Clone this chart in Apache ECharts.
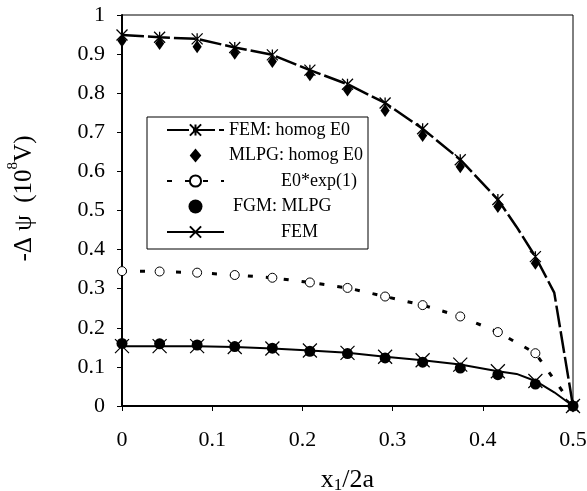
<!DOCTYPE html>
<html lang="en" style="height: 100%">
<head>
  <meta charset="utf-8">
</head>
<body style="height: 100%; margin: 0">
  <div id="container" style="width: 587px; height: 491px"></div>

  <script type="text/javascript" src="https://cdn.jsdelivr.net/npm/echarts@6/dist/echarts.min.js"></script>

  <script type="text/javascript">
    // node positions along the crack, x1/2a
    var xNodes = [0, 0.0417, 0.0833, 0.125, 0.1667, 0.2083, 0.25, 0.2917, 0.3333, 0.375, 0.4167, 0.4583, 0.5];

    var femHomog  = [0.949, 0.943, 0.939, 0.917, 0.898, 0.859, 0.823, 0.775, 0.709, 0.630, 0.528, 0.382, 0];
    var mlpgHomog = [0.934, 0.927, 0.919, 0.902, 0.881, 0.847, 0.808, 0.756, 0.692, 0.612, 0.510, 0.365, 0];
    var e0Exp     = [0.345, 0.344, 0.341, 0.335, 0.328, 0.316, 0.302, 0.280, 0.258, 0.229, 0.189, 0.135, 0];
    var fgmMlpg   = [0.160, 0.159, 0.156, 0.152, 0.148, 0.140, 0.134, 0.123, 0.112, 0.097, 0.080, 0.056, 0];
    var fem       = [0.153, 0.153, 0.153, 0.151, 0.147, 0.142, 0.136, 0.126, 0.117, 0.106, 0.089, 0.064, 0];

    // FEM nodes in between the marked ones (line only, no marker)
    var femHomogExtra = [[0.4375, 0.458], [0.4792, 0.29]];
    var femExtra      = [[0.4375, 0.082], [0.4792, 0.035]];

    var names = ['FEM: homog E0', 'MLPG: homog E0', 'E0*exp(1)', 'FGM: MLPG', 'FEM'];

    function pts(ys) {
      return xNodes.map(function (x, i) { return [x, ys[i]]; });
    }
    function withExtra(ys, extra) {
      var d = pts(ys).map(function (p) { return { value: p }; });
      extra.forEach(function (p) { d.push({ value: p, symbol: 'none' }); });
      d.sort(function (a, b) { return a.value[0] - b.value[0]; });
      return d;
    }

    var asterisk = 'path://M0,0L10,10M10,0L0,10M5,0L5,10';
    var cross = 'path://M0,0L10,10M10,0L0,10';
    var diamond = 'path://M5,0L10,6L5,12L0,6Z';
    var font = 'Liberation Serif';

    var dom = document.getElementById('container');
    var myChart = echarts.init(dom, null, { renderer: 'canvas' });

    var option = {
      animation: false,
      grid: {
        left: 122, top: 15, right: 14, bottom: 85,
        outerBoundsMode: 'none',
        containLabel: false,
        show: true, borderColor: '#000', borderWidth: 1
      },
      legend: {
        orient: 'vertical',
        left: 147, top: 117,
        padding: [3, 5, 7, 19],
        backgroundColor: '#fff',
        borderColor: '#000',
        borderWidth: 1,
        itemWidth: 57,
        itemHeight: 14,
        itemGap: 5.5,
        textStyle: { fontFamily: font, fontSize: 18, color: '#000', lineHeight: 20 },
        data: [
          { name: names[0] },
          { name: names[1] },
          { name: names[2], textStyle: { padding: [0, 0, 0, 52] } },
          { name: names[3], textStyle: { padding: [0, 0, 0, 4] } },
          { name: names[4], textStyle: { padding: [0, 0, 0, 52] } }
        ]
      },
      xAxis: {
        type: 'value',
        min: 0, max: 0.5, interval: 0.1,
        name: '{a|x}{sub|1}{a|/2a}',
        nameLocation: 'middle',
        nameGap: 60,
        nameTextStyle: {
          rich: {
            a: { fontFamily: font, fontSize: 26, color: '#000', lineHeight: 28 },
            sub: { fontFamily: font, fontSize: 17, color: '#000', lineHeight: 17, verticalAlign: 'bottom' }
          }
        },
        axisLine: { lineStyle: { color: '#000', width: 2 } },
        axisTick: { show: true, inside: false, length: 5, lineStyle: { color: '#000', width: 1 } },
        axisLabel: { fontFamily: font, fontSize: 22, color: '#000', margin: 23 },
        splitLine: { show: false }
      },
      yAxis: {
        type: 'value',
        min: 0, max: 1, interval: 0.1,
        name: '{a|-Δ ψ  (10}{sup|8}{a|V)}',
        nameLocation: 'middle',
        nameGap: 80,
        nameTextStyle: {
          padding: [0, 0, 0, 24],
          rich: {
            a: { fontFamily: font, fontSize: 25, color: '#000', lineHeight: 36 },
            sup: { fontFamily: font, fontSize: 15, color: '#000', lineHeight: 15, verticalAlign: 'top' }
          }
        },
        axisLine: { show: true, lineStyle: { color: '#000', width: 2 } },
        axisTick: { show: true, inside: false, length: 5, lineStyle: { color: '#000', width: 1 } },
        axisLabel: { fontFamily: font, fontSize: 22, color: '#000', margin: 17 },
        splitLine: { show: false }
      },
      series: [
        {
          name: names[0],
          type: 'line',
          data: withExtra(femHomog, femHomogExtra),
          symbol: asterisk,
          symbolSize: 11,
          showAllSymbol: true,
          lineStyle: { color: '#000', width: 2.5, type: [22, 4] },
          itemStyle: { color: '#000', borderColor: '#000', borderWidth: 1.3 },
          z: 2
        },
        {
          name: names[1],
          type: 'scatter',
          data: pts(mlpgHomog),
          symbol: diamond,
          symbolSize: [11, 13],
          symbolKeepAspect: true,
          itemStyle: { color: '#000', opacity: 1 },
          z: 3
        },
        {
          name: names[2],
          type: 'line',
          data: pts(e0Exp),
          symbol: 'circle',
          symbolSize: 9,
          showAllSymbol: true,
          lineStyle: { color: '#000', width: 3, type: [5, 13] },
          itemStyle: { color: '#fff', borderColor: '#000', borderWidth: 1 },
          z: 4
        },
        {
          name: names[3],
          type: 'scatter',
          data: pts(fgmMlpg),
          symbol: 'circle',
          symbolSize: 11,
          symbolKeepAspect: true,
          itemStyle: { color: '#000', opacity: 1 },
          z: 5
        },
        {
          name: names[4],
          type: 'line',
          data: withExtra(fem, femExtra),
          symbol: cross,
          symbolSize: 14,
          showAllSymbol: true,
          lineStyle: { color: '#000', width: 2 },
          itemStyle: { color: '#000', borderColor: '#000', borderWidth: 1.2 },
          z: 6
        }
      ]
    };

    myChart.setOption(option);
    window.addEventListener('resize', myChart.resize);
  </script>
</body>
</html>
